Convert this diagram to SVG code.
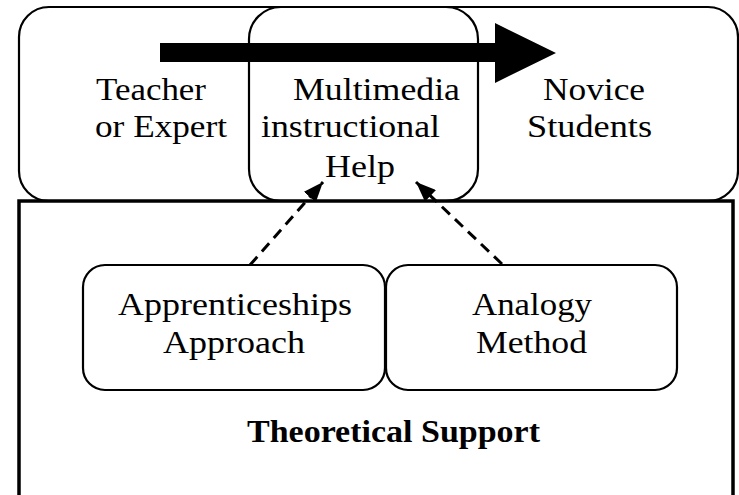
<svg xmlns="http://www.w3.org/2000/svg" width="739" height="495" viewBox="0 0 739 495">
<style>
.box{fill:none;stroke:#000;stroke-width:2.2}
.frame{fill:none;stroke:#000;stroke-width:3.5}
.t{font-family:"Liberation Serif","Times New Roman",serif;font-size:32px;fill:#000}
.b{font-weight:bold;font-size:31px}
.dash{fill:none;stroke:#000;stroke-width:3;stroke-dasharray:11 7}
</style>
<defs>
<marker id="ah" viewBox="0 0 20 16" refX="20" refY="8" markerWidth="20" markerHeight="16" markerUnits="userSpaceOnUse" orient="auto">
<path d="M0,0 L20,8 L0,16 Z" fill="#000"/>
</marker>
</defs>
<rect width="739" height="495" fill="#fff"/>
<g id="teacher">
<rect class="box" x="19" y="7" width="719" height="194" rx="30"/>
<text class="t" x="96" y="100" textLength="110" lengthAdjust="spacingAndGlyphs">Teacher</text>
<text class="t" x="95" y="137" textLength="132" lengthAdjust="spacingAndGlyphs">or Expert</text>
</g>
<g id="novice">
<text class="t" x="543" y="100" textLength="102" lengthAdjust="spacingAndGlyphs">Novice</text>
<text class="t" x="527" y="137" textLength="125" lengthAdjust="spacingAndGlyphs">Students</text>
</g>
<g id="multimedia">
<rect class="box" x="249" y="7" width="229" height="194" rx="32"/>
<text class="t" x="293" y="100" textLength="167" lengthAdjust="spacingAndGlyphs">Multimedia</text>
<text class="t" x="261" y="137" textLength="179" lengthAdjust="spacingAndGlyphs">instructional</text>
<text class="t" x="325" y="177" textLength="70" lengthAdjust="spacingAndGlyphs">Help</text>
</g>
<g id="support">
<rect class="frame" x="19" y="201" width="714" height="320"/>
<text class="t b" x="247" y="442" textLength="293" lengthAdjust="spacingAndGlyphs">Theoretical Support</text>
</g>
<g id="apprenticeships">
<rect class="box" x="83" y="265" width="302" height="125" rx="22"/>
<text class="t" x="118" y="315" textLength="234" lengthAdjust="spacingAndGlyphs">Apprenticeships</text>
<text class="t" x="163" y="353" textLength="142" lengthAdjust="spacingAndGlyphs">Approach</text>
</g>
<g id="analogy">
<rect class="box" x="386" y="265" width="291" height="125" rx="22"/>
<text class="t" x="472" y="315" textLength="120" lengthAdjust="spacingAndGlyphs">Analogy</text>
<text class="t" x="476" y="353" textLength="111" lengthAdjust="spacingAndGlyphs">Method</text>
</g>
<g id="connectors">
<path d="M160,43 L495,43 L495,23 L556,53 L495,83 L495,62 L160,62 Z" fill="#000"/>
<line class="dash" x1="250" y1="265" x2="323" y2="182" marker-end="url(#ah)"/>
<line class="dash" x1="502" y1="264" x2="416" y2="182" marker-end="url(#ah)"/>
</g>
</svg>
